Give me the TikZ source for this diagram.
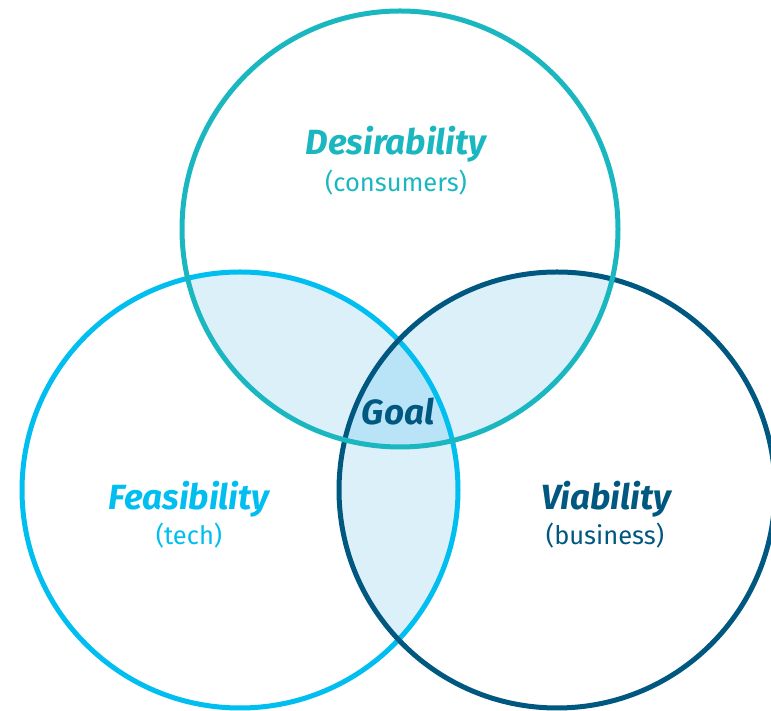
\documentclass[tikz,border=0pt]{standalone}
\usepackage{fontspec}
\setmainfont{Fira Sans}
\usetikzlibrary{positioning}

\definecolor{desc}{HTML}{1BB7C0}
\definecolor{feac}{HTML}{00BEF0}
\definecolor{viac}{HTML}{005880}
\definecolor{pairc}{HTML}{DCF0FA}
\definecolor{goalc}{HTML}{B9E4F7}

\begin{document}
\begin{tikzpicture}[x=1pt,y=1pt,
  ring/.style={line width=5pt},
  head/.style={font=\fontsize{35}{35}\selectfont\bfseries\itshape},
  sub/.style={font=\fontsize{25.5}{25.5}\selectfont},
  rr/.store in=\rr, rr=218]
  \useasboundingbox (0,0) rectangle (771,711);

  \coordinate (des) at (400,482);
  \coordinate (fea) at (240,221);
  \coordinate (via) at (557,221);

  % pairwise overlaps
  \begin{scope}
    \clip (des) circle (\rr);
    \fill[pairc] (fea) circle (\rr);
    \fill[pairc] (via) circle (\rr);
  \end{scope}
  \begin{scope}
    \clip (fea) circle (\rr);
    \fill[pairc] (via) circle (\rr);
  \end{scope}
  % all three
  \begin{scope}
    \clip (des) circle (\rr);
    \clip (fea) circle (\rr);
    \fill[goalc] (via) circle (\rr);
  \end{scope}

  \draw[ring,feac] (fea) circle (\rr);
  \draw[ring,viac] (via) circle (\rr);
  \draw[ring,desc] (des) circle (\rr);

  \node[head,text=desc,anchor=base] (desT) at (396,556) {Desirability};
  \node[sub,text=desc,anchor=base] (desS) at (396,519) {(consumers)};
  \node[head,text=feac,anchor=base] (feaT) at (189,201) {Feasibility};
  \node[sub,text=feac,anchor=base] (feaS) at (189,166) {(tech)};
  \node[head,text=viac,anchor=base] (viaT) at (606,201) {Viability};
  \node[sub,text=viac,anchor=base] (viaS) at (605,166) {(business)};
  \node[head,text=viac,anchor=base] (goal) at (398,286) {Goal};
\end{tikzpicture}
\end{document}
